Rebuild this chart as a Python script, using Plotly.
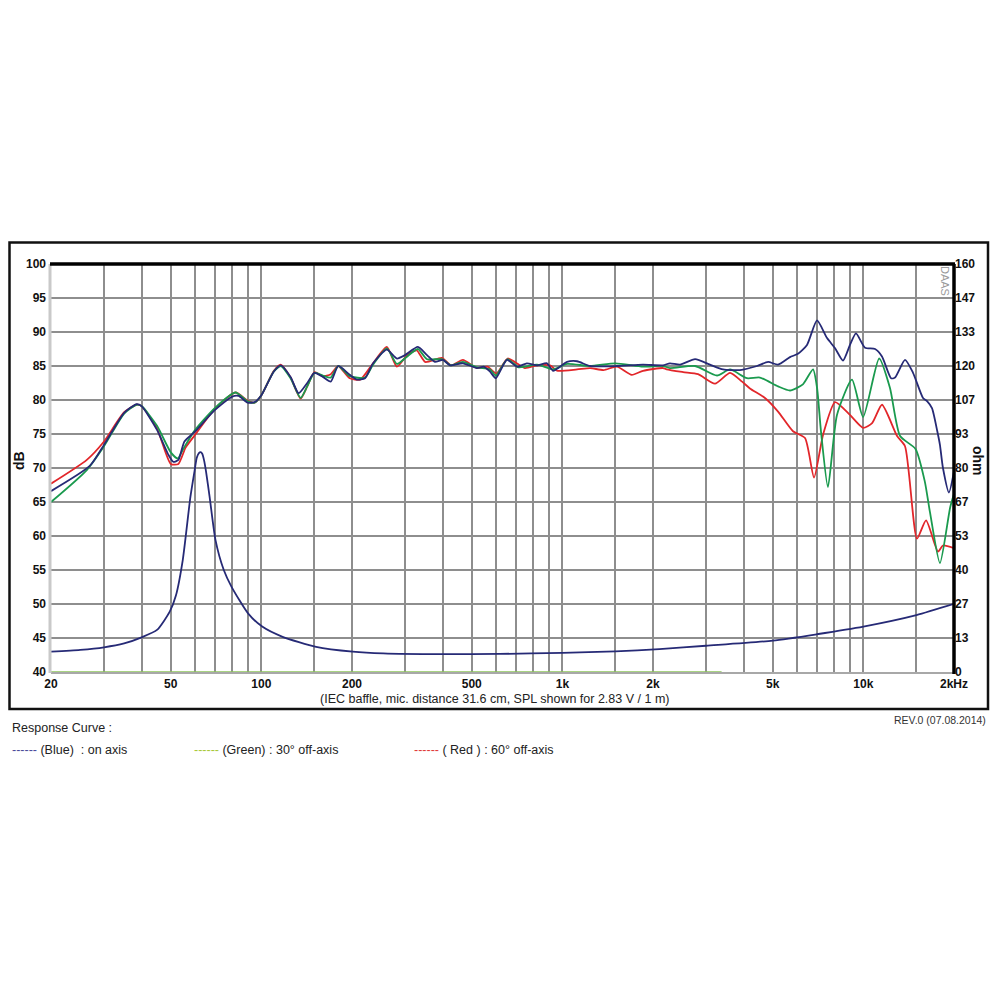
import plotly.graph_objects as go

# ---------------- data ----------------
blue_f = [20, 26.9, 30, 35, 38.5, 40, 45, 49, 51, 53, 55.5, 60, 70, 80, 84, 90, 95, 100, 110, 116,
          125, 133, 142, 150, 160, 170, 180, 196.6, 208, 221, 235, 261, 282, 300, 331, 355, 377, 401,
          423, 467, 520, 548, 574, 601, 654, 707, 762, 824, 889, 931, 1036, 1119, 1236, 1518, 1853,
          2159, 2277, 2460, 2760, 3091, 3416, 3889, 4435, 4823, 5206, 5703, 6061, 6496, 7015, 7574,
          8054, 8555, 9024, 9449, 10121, 10934, 11530, 12360, 12740, 13750, 14620, 15780, 16300,
          16900, 17600, 17960, 18380, 19240, 20000]
blue_db = [66.6, 70.3, 73.4, 78.1, 79.4, 79.1, 75.6, 72.0, 70.9, 71.2, 73.9, 75.3, 78.5, 80.5, 80.6,
           79.6, 79.7, 80.7, 84.2, 85.1, 83.4, 81.0, 82.5, 84.0, 83.4, 82.7, 85.0, 83.7, 83.0, 83.2,
           85.4, 87.4, 86.1, 86.6, 87.8, 86.6, 85.6, 85.9, 85.1, 85.4, 84.7, 84.9, 84.2, 83.2, 85.9,
           84.9, 85.4, 85.1, 85.4, 84.3, 85.6, 85.7, 85.0, 85.0, 85.2, 85.1, 85.4, 85.2, 86.0, 85.2,
           84.5, 84.4, 85.0, 85.6, 85.2, 86.3, 86.8, 88.1, 91.7, 89.1, 87.6, 85.8, 88.1, 89.8, 87.7,
           87.5, 86.4, 83.2, 83.3, 85.9, 84.0, 80.3, 79.8, 78.8, 75.4, 73.4, 70.0, 66.4, 69.5]

green_f = [20, 26.3, 30, 35, 38.5, 40, 45, 50, 52.7, 55, 60, 70, 82, 90, 95, 100, 110, 116, 125, 135,
           142, 150, 160, 170, 180, 196.6, 221, 235, 261, 282, 303, 331, 355, 399, 426, 467, 520, 574,
           601, 657, 716, 824, 931, 1036, 1236, 1500, 1853, 2159, 2277, 2760, 3263, 3606, 4103, 4530,
           5206, 5703, 6296, 6802, 7015, 7229, 7625, 8170, 9164, 9979, 11280, 12250, 13240, 14900,
           16000, 16640, 17960, 19420, 20000]
green_db = [65.0, 69.7, 73.2, 78.0, 79.3, 79.1, 76.2, 72.3, 71.4, 72.8, 75.5, 78.8, 81.1, 79.8, 79.6,
            80.7, 84.2, 85.0, 83.2, 80.3, 82.0, 84.0, 83.6, 83.3, 85.0, 83.5, 83.3, 85.2, 87.6, 85.3,
            86.3, 87.5, 86.0, 86.0, 85.1, 85.6, 84.8, 84.5, 83.6, 86.0, 84.8, 85.2, 84.5, 85.3, 85.0,
            85.4, 84.9, 85.0, 84.7, 85.0, 83.6, 84.5, 83.2, 83.3, 82.0, 81.4, 82.3, 84.5, 81.8, 75.4,
            67.2, 77.8, 83.0, 77.5, 86.1, 81.8, 74.7, 72.8, 68.0, 63.5, 56.0, 64.2, 66.2]

red_f = [20, 26.3, 30, 35, 38.5, 40, 45, 50, 53, 56, 60, 70, 82, 90, 95, 100, 110, 116, 125, 135,
         142, 150, 160, 170, 180, 196.6, 213, 235, 261, 282, 305, 328, 350, 398, 427, 467, 520, 563,
         604, 658, 750, 824, 910, 960, 1119, 1236, 1370, 1518, 1700, 1853, 2159, 2220, 2518, 2823,
         3213, 3606, 3953, 4198, 4710, 5206, 5836, 6398, 6856, 7346, 8054, 9024, 9979, 10690, 11530,
         12940, 13750, 15070, 16150, 17700, 18380, 20000]
red_db = [67.7, 71.2, 73.9, 78.2, 79.3, 79.1, 75.8, 70.6, 70.6, 73.0, 74.8, 78.7, 81.1, 79.9, 79.6,
          80.7, 84.3, 85.2, 83.3, 80.2, 82.0, 84.1, 83.5, 83.8, 85.0, 83.2, 83.0, 85.4, 87.8, 84.9,
          86.6, 87.3, 85.6, 86.2, 85.1, 85.9, 84.7, 84.9, 83.9, 86.1, 84.7, 85.1, 85.1, 84.3, 84.5,
          84.7, 84.4, 84.9, 83.7, 84.3, 84.7, 84.5, 84.1, 83.8, 82.4, 84.0, 82.7, 81.7, 80.3, 78.3,
          75.4, 74.4, 68.6, 74.9, 79.7, 77.8, 75.9, 76.6, 79.3, 74.7, 73.2, 59.6, 62.3, 57.7, 58.6,
          58.2]

imp_f = [20, 25, 30, 35, 40, 45, 49.6, 52, 54.8, 58.1, 60, 61, 62, 62.8, 63.6, 64.5, 65.5, 67.3,
         70.4, 75, 79.6, 90.3, 100.6, 117.6, 152, 201, 254, 400, 620, 1000, 1500, 2100, 3000, 5000,
         7000, 10000, 15000, 20000]
imp_ohm = [8.0, 8.7, 9.7, 11.2, 13.6, 16.5, 23.7, 30.0, 43.9, 68.7, 79.0, 84.0, 85.8, 86.2, 85.6,
           83.0, 78.5, 68.7, 51.7, 40.0, 33.4, 23.0, 17.8, 13.8, 9.9, 8.0, 7.3, 7.0, 7.1, 7.5, 8.1,
           9.0, 10.3, 12.3, 14.8, 17.8, 22.3, 26.7]

green_imp_f = [20, 3380]
green_imp_ohm = [0, 0]

x_grid = [20, 30, 40, 50, 60, 70, 80, 90, 100, 150, 200, 300, 400, 500, 600, 700, 800, 900, 1000,
          1500, 2000, 3000, 4000, 5000, 6000, 7000, 8000, 9000, 10000, 15000, 20000]
x_labels = {20: "20", 50: "50", 100: "100", 200: "200", 500: "500", 1000: "1k", 2000: "2k",
            5000: "5k", 10000: "10k", 20000: "2kHz"}
db_ticks = [40, 45, 50, 55, 60, 65, 70, 75, 80, 85, 90, 95, 100]
ohm_tickvals = [i * 160 / 12 for i in range(13)]
ohm_ticktext = ["0", "13", "27", "40", "53", "67", "80", "93", "107", "120", "133", "147", "160"]

# ---------------- colors / fonts ----------------
BLUE = "#262a76"
GREEN = "#1a9a4e"
RED = "#e2262a"
LGREEN = "#8cc65a"
TICKFONT = "Liberation Sans, Arial"
TEXTFONT = "Liberation Sans, Arial"

# page offset (body margin) and plot-area pixel box in the page
OFF = 8
W = H = 984
L, R, T, B = 51, 954, 264, 672
def px(x):
    return (x - L) / (R - L)
def py(y):
    return (B - y) / (B - T)

fig = go.Figure()
fig.add_trace(go.Scatter(x=green_imp_f, y=green_imp_ohm, yaxis="y2", mode="lines",
                         line=dict(color=LGREEN, width=1.5), showlegend=False))
for f, v, c in [(red_f, red_db, RED), (green_f, green_db, GREEN), (blue_f, blue_db, BLUE)]:
    fig.add_trace(go.Scatter(x=f, y=v, mode="lines",
                             line=dict(color=c, width=1.8, shape="spline", smoothing=0.6),
                             showlegend=False))
fig.add_trace(go.Scatter(x=imp_f, y=imp_ohm, yaxis="y2", mode="lines",
                         line=dict(color=BLUE, width=1.8, shape="spline", smoothing=0.6),
                         showlegend=False))

tickfont = dict(family=TICKFONT, size=12, color="#111", weight="bold")
fig.update_layout(
    width=W, height=H, autosize=False,
    paper_bgcolor="white", plot_bgcolor="white",
    margin=dict(l=L - OFF, r=W - (R - OFF), t=T - OFF, b=H - (B - OFF), pad=0),
    xaxis=dict(type="log", range=[1.30103, 4.30103], tickvals=x_grid,
               ticktext=[x_labels.get(v, "") for v in x_grid],
               showgrid=True, gridcolor="#8e8e8e", gridwidth=2, ticks="",
               showline=True, linecolor="#a8a8a8", linewidth=2,
               tickfont=tickfont, zeroline=False),
    yaxis=dict(range=[40, 100], tickvals=db_ticks, showgrid=True, gridcolor="#8e8e8e",
               gridwidth=2, ticks="", showline=False, zeroline=False, ticklabelstandoff=4,
               tickfont=tickfont),
    yaxis2=dict(range=[0, 160], overlaying="y", side="right", tickvals=ohm_tickvals,
                ticktext=ohm_ticktext, showgrid=False, zeroline=False, ticks="",
                tickfont=tickfont),
)

# frame lines
fig.add_shape(type="rect", xref="paper", yref="paper", x0=px(9.5), x1=px(988), y0=py(709),
              y1=py(242.5), line=dict(color="#111", width=2.5))
fig.add_shape(type="line", xref="paper", yref="paper", x0=px(50), x1=px(50), y0=py(673), y1=py(264),
              line=dict(color="#c9c9c9", width=3))
fig.add_shape(type="line", xref="paper", yref="paper", x0=px(50), x1=px(955), y0=1, y1=1,
              line=dict(color="#000", width=3.5))
fig.add_shape(type="line", xref="paper", yref="paper", x0=1, x1=1, y0=py(674), y1=py(264),
              line=dict(color="#000", width=3.5))

def add_text(text, x, y, size, xanchor="center", angle=0, bold=False, color="#222", family=TEXTFONT):
    fig.add_annotation(text=("<b>%s</b>" % text) if bold else text, x=px(x), y=py(y),
                       xref="paper", yref="paper", showarrow=False, xanchor=xanchor,
                       yanchor="middle", textangle=angle,
                       font=dict(family=family, size=size, color=color))

add_text("dB", 19, 461, 14, angle=-90, bold=True, color="#111")
add_text("ohm", 978, 461, 14, angle=90, bold=True, color="#111")
add_text("DAAS", 945, 281, 11, angle=90, color="#9a9a9a")
add_text("(IEC baffle, mic. distance 31.6 cm, SPL shown for 2.83 V / 1 m)", 494, 699, 12.5)
add_text("Response Curve :", 10, 728, 12.5, xanchor="left")
add_text("REV.0 (07.08.2014)", 988, 720, 10.5, xanchor="right", color="#333")
add_text('<span style="color:#4a4a9a">------</span>\u00a0(Blue)\u00a0\u00a0: on axis', 10, 750, 12.5,
         xanchor="left")
add_text('<span style="color:#a8c83a">------</span>\u00a0(Green) : 30° off-axis', 192, 750, 12.5,
         xanchor="left")
add_text('<span style="color:#e03a3a">------</span>\u00a0( Red ) : 60° off-axis', 412, 750, 12.5,
         xanchor="left")

fig.write_html("out.html")
